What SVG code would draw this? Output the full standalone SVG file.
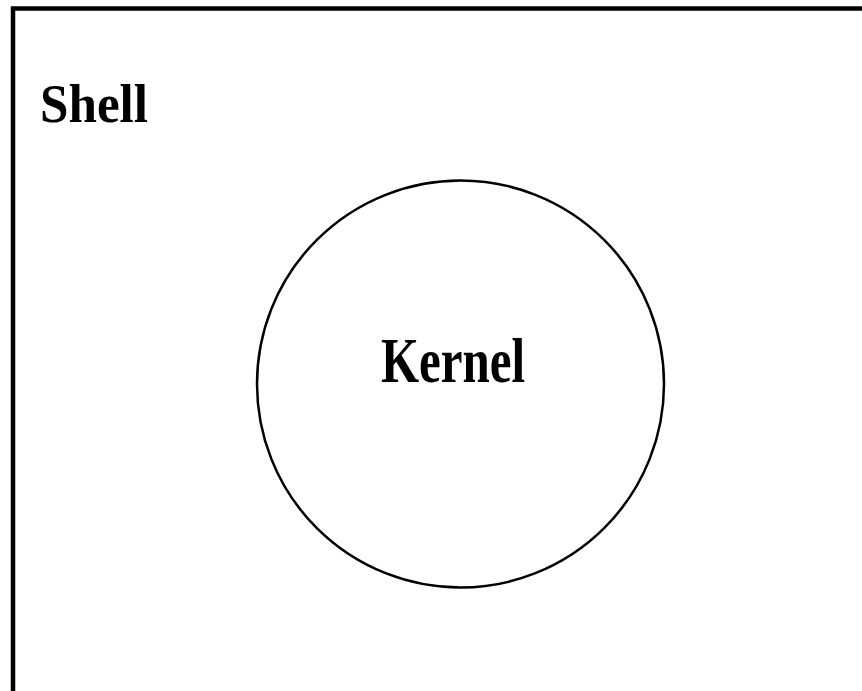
<svg xmlns="http://www.w3.org/2000/svg" width="862" height="691" viewBox="0 0 862 691">
  <style>
    .lbl { font-family: "Liberation Serif", "Times New Roman", serif; font-weight: bold; fill: #000; }
    .edge { fill: none; stroke: #000; }
  </style>
  <rect x="0" y="0" width="862" height="691" fill="#fff"/>
  <g id="shell">
    <rect class="edge" x="13" y="8.5" width="900" height="800" stroke-width="4.5"/>
    <text class="lbl" x="40" y="122" font-size="54" textLength="108" lengthAdjust="spacingAndGlyphs">Shell</text>
  </g>
  <g id="kernel">
    <circle class="edge" cx="460.5" cy="384" r="203.5" stroke-width="2.5"/>
    <text class="lbl" x="381" y="382" font-size="64" textLength="144" lengthAdjust="spacingAndGlyphs">Kernel</text>
  </g>
  <g id="connectors"></g>
</svg>
